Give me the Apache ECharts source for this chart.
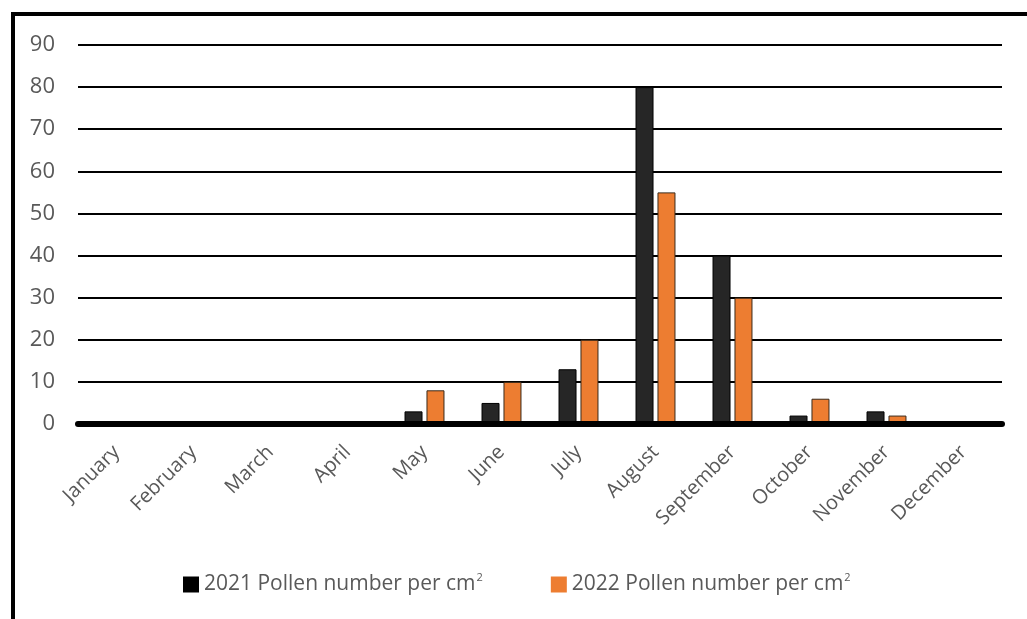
<!DOCTYPE html>
<html><head><meta charset="utf-8">
<script src="https://cdn.jsdelivr.net/npm/echarts@6/dist/echarts.min.js"></script>
<style>
html,body{margin:0;padding:0;background:#fff;overflow:hidden}
#frame{position:absolute;left:11px;top:12px;width:1100px;height:700px;border-left:4px solid #000;border-top:4px solid #000;box-sizing:border-box;pointer-events:none}
#c{position:absolute;left:0;top:0;width:1027px;height:619px}
</style></head><body>
<div id="c"></div><div id="frame"></div>
<script>
var months = ['January','February','March','April','May','June','July','August','September','October','November','December'];
var pollen2021 = [0,0,0,0,3,5,13,80,40,2,3,0];
var pollen2022 = [0,0,0,0,8,10,20,55,30,6,2,0];
var yTicks = [0,10,20,30,40,50,60,70,80,90];
var seriesNames = ['2021 Pollen number per cm', '2022 Pollen number per cm'];
var font = 'Open Sans';
var chart = echarts.init(document.getElementById('c'));
chart.setOption({
  animation:false,
  grid:{left:78,right:25,top:45,bottom:195,containLabel:false},
  legend:{
    top:567,left:178,itemWidth:16,itemHeight:16,itemGap:68,icon:'rect',
    data:[{name:seriesNames[0],itemStyle:{color:'#000'}},{name:seriesNames[1]}],
    itemStyle:{borderWidth:0},
    formatter:function(n){return n+'{sup|2}';},
    textStyle:{color:'#595959',fontFamily:font,fontSize:21,
      rich:{sup:{fontSize:11,verticalAlign:'top',padding:[0,0,14,1],color:'#595959',fontFamily:font}}}
  },
  xAxis:{
    type:'category',data:months,z:5,
    axisLine:{lineStyle:{color:'#000',width:6,cap:'round'}},
    axisTick:{show:false},
    axisLabel:{rotate:45,color:'#595959',fontFamily:font,fontSize:20,margin:25,interval:0}
  },
  yAxis:{
    type:'value',min:0,max:90,interval:10,
    axisLine:{show:false},axisTick:{show:false},
    axisLabel:{color:'#595959',fontFamily:font,fontSize:22,margin:23},
    splitLine:{lineStyle:{color:'#000',width:2}}
  },
  series:[
    {name:seriesNames[0],type:'bar',data:pollen2021,barWidth:18,barGap:'22%',
     itemStyle:{color:'#262626',borderColor:'#000',borderWidth:1}},
    {name:seriesNames[1],type:'bar',data:pollen2022,barWidth:18,
     itemStyle:{color:'#ED7D31',borderColor:'#3a2a1a',borderWidth:1}}
  ]
});
</script></body></html>
